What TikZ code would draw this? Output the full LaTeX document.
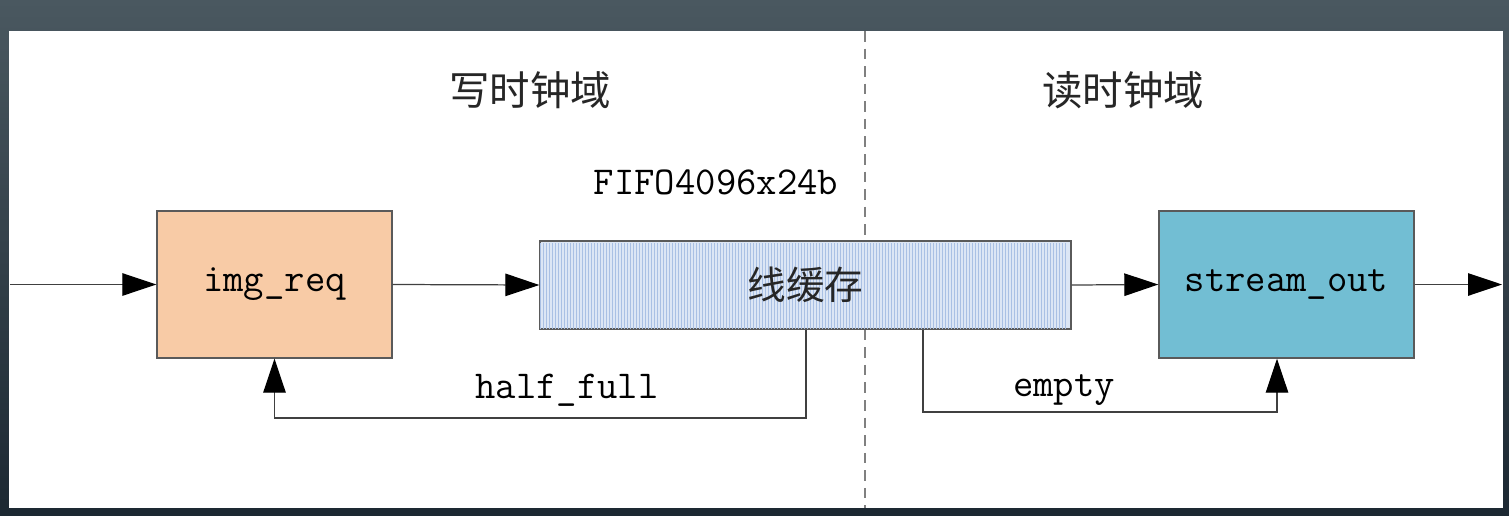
\documentclass[tikz,border=0pt]{standalone}
\usepackage{fontspec}
\newfontfamily\cjk{Noto Sans CJK SC}
\usetikzlibrary{arrows.meta,calc}
\definecolor{peach}{HTML}{F8CBA6}
\definecolor{teal}{HTML}{72BED3}
\definecolor{fifobg}{HTML}{DCE6F5}
\definecolor{fifoln}{HTML}{A9C0E4}
\definecolor{edge}{HTML}{5A5A5A}
\definecolor{bgtop}{HTML}{4A5860}
\definecolor{bgbot}{HTML}{1C2832}
\tikzset{
  blockbox/.style={draw=edge, line width=0.8pt, rectangle, inner sep=0pt},
  lbl/.style={font=\ttfamily\fontsize{22.5}{27}\selectfont, text=black},
  cjklbl/.style={font=\cjk\fontsize{23}{28}\selectfont, text=black!85},
  arr/.style={draw=black!75, line width=0.7pt, -{Triangle[length=0.68cm,width=0.45cm,color=black]}},
  wire/.style={draw=black!75, line width=0.7pt}
}
\begin{document}
\begin{tikzpicture}
\useasboundingbox (0,0) rectangle (30.18,-10.3);
\shade[top color=bgtop, bottom color=bgbot] (0,0) rectangle (30.18,-10.3);
\fill[white] (0.18,-0.62) rectangle (30.06,-10.16);
% clock domain divider
\draw[gray, line width=0.7pt, dash pattern=on 6pt off 4pt] (17.3,-0.62) -- (17.3,-10.16);
% titles
\node[cjklbl] (wtitle) at (10.6,-1.8) {写时钟域};
\node[cjklbl] (rtitle) at (22.46,-1.8) {读时钟域};
% blocks
\node[blockbox, fill=peach, minimum width=4.7cm, minimum height=2.94cm, lbl] (imgreq) at (5.49,-5.69) {img\_req};
\node[blockbox, fill=fifobg, minimum width=10.62cm, minimum height=1.76cm] (fifo) at (16.11,-5.70) {};
\foreach \i in {0,...,175} {
  \draw[fifoln, line width=0.45pt] ($(fifo.south west)+(0.03+0.06*\i,0.02)$) -- ++(0,1.72);
}
\draw[edge, line width=0.8pt] (fifo.south west) rectangle (fifo.north east);
\node[cjklbl, font=\cjk\fontsize{22}{26}\selectfont] (fifotext) at (fifo.center) {线缓存};
\node[blockbox, fill=teal, minimum width=5.1cm, minimum height=2.94cm, lbl] (so) at (25.73,-5.69) {stream\_out};
\node[lbl] (fifoname) at (14.32,-3.64) {FIFO4096x24b};
% main data path
\coordinate (in) at (0.2,-5.69);
\coordinate (out) at (30.04,-5.69);
\draw[arr] (in) -- (imgreq.west);
\draw[arr] (imgreq.east) -- (fifo.west);
\draw[arr] (fifo.east) -- (so.west);
\draw[arr] (so.east) -- (out);
% feedback
\coordinate (hf) at (16.12,-8.36);
\draw[arr] (fifo.south -| hf) -- (hf) -| (imgreq.south);
\coordinate (eml) at (18.46,-8.24);
\coordinate (emr) at (25.54,-8.24);
\draw[arr] (fifo.south -| eml) -- (eml) -- (emr) -- (emr |- so.south);
\node[lbl] (hflbl) at (11.34,-7.80) {half\_full};
\node[lbl] (emlbl) at (21.28,-7.80) {empty};
\end{tikzpicture}
\end{document}
